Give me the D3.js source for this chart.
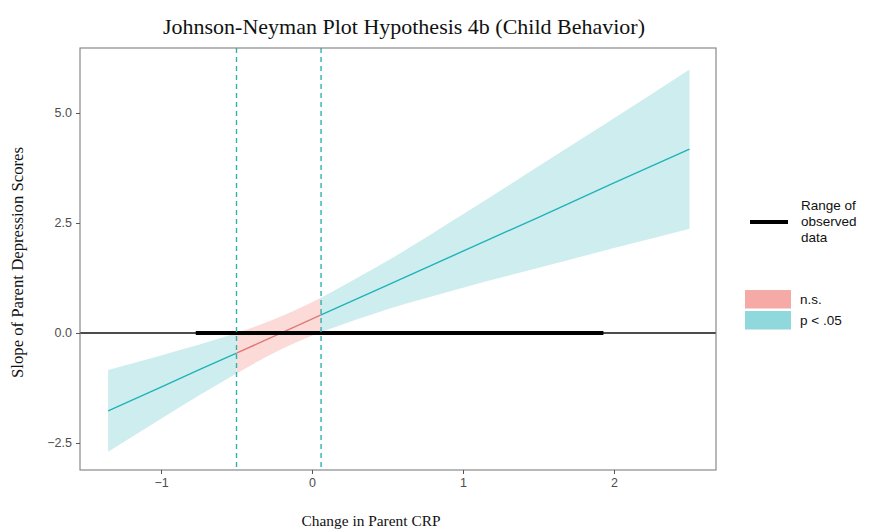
<!DOCTYPE html>
<html>
<head>
<meta charset="utf-8">
<script src="https://cdn.jsdelivr.net/npm/d3@7"></script>
<style>
  html, body { margin: 0; padding: 0; background: #fff; }
  svg { display: block; }
</style>
</head>
<body>
<svg id="chart" width="872" height="531"></svg>
<script>
// Moderator values (Change in Parent CRP) and the conditional slope with its 95% band
const moderator = [-1.35, -1.0, -0.75, -0.5, -0.25, 0.06, 0.5, 1.0, 1.5, 2.0, 2.5];
const slope     = [-1.77, -1.23, -0.84, -0.46, -0.07, 0.41, 1.09, 1.86, 2.63, 3.41, 4.18];
const lowerCI   = [-2.70, -1.95, -1.42, -0.92, -0.45, 0.02, 0.54, 1.03, 1.48, 1.93, 2.37];
const upperCI   = [-0.84, -0.51, -0.27, 0.00, 0.31, 0.80, 1.64, 2.70, 3.79, 4.88, 5.99];

// Johnson-Neyman boundaries and observed range of the moderator
const jnBounds = [-0.5, 0.06];
const observedRange = [-0.77, 1.93];

// Significance regions along the moderator
const regions = [
  { from: -1.35, to: -0.5, sig: true },
  { from: -0.5, to: 0.06, sig: false },
  { from: 0.06, to: 2.5, sig: true }
];

const xTicks = [-1, 0, 1, 2];
const yTicks = [-2.5, 0, 2.5, 5.0];

const titleText = "Johnson-Neyman Plot Hypothesis 4b (Child Behavior)";
const xTitle = "Change in Parent CRP";
const yTitle = "Slope of Parent Depression Scores";
const legendRangeLines = ["Range of", "observed", "data"];
const legendSig = [{ label: "n.s.", sig: false }, { label: "p < .05", sig: true }];

const colors = {
  sigLine: "#1fb3b9", sigBand: "#cdedef", sigKey: "#8fd8dc",
  nsLine: "#dd7b74", nsBand: "#fbdad8", nsKey: "#f6aaa7"
};

const rows = moderator.map((m, i) => ({ x: m, est: slope[i], lo: lowerCI[i], hi: upperCI[i] }));

const svg = d3.select("#chart");
const panel = { left: 80, right: 716, top: 48, bottom: 470 };

const x = d3.scaleLinear()
  .domain([-1.5365, 2.6755])
  .range([panel.left, panel.right]);
const y = d3.scaleLinear()
  .domain([-3.114, 6.477])
  .range([panel.bottom, panel.top]);

const g = svg.append("g");

const inRegion = r => rows.filter(d => d.x >= r.from - 1e-9 && d.x <= r.to + 1e-9);

// Confidence bands and slope line per significance region
const area = d3.area()
  .x(d => x(d.x)).y0(d => y(d.lo)).y1(d => y(d.hi))
  .curve(d3.curveMonotoneX);
const line = d3.line().x(d => x(d.x)).y(d => y(d.est));

regions.forEach(r => {
  g.append("path").datum(inRegion(r))
    .attr("d", area)
    .attr("fill", r.sig ? colors.sigBand : colors.nsBand);
});

// Zero reference line
g.append("line")
  .attr("x1", panel.left).attr("x2", panel.right)
  .attr("y1", y(0)).attr("y2", y(0))
  .attr("stroke", "#111").attr("stroke-width", 1.5);

regions.forEach(r => {
  g.append("path").datum(inRegion(r))
    .attr("d", line)
    .attr("fill", "none")
    .attr("stroke", r.sig ? colors.sigLine : colors.nsLine)
    .attr("stroke-width", 1.4);
});

// Observed data range
g.append("line")
  .attr("x1", x(observedRange[0])).attr("x2", x(observedRange[1]))
  .attr("y1", y(0)).attr("y2", y(0))
  .attr("stroke", "#000").attr("stroke-width", 4);

// Johnson-Neyman boundaries
g.selectAll(".jn").data(jnBounds).enter().append("line")
  .attr("x1", d => x(d)).attr("x2", d => x(d))
  .attr("y1", panel.top).attr("y2", panel.bottom)
  .attr("stroke", "#2fb0b3").attr("stroke-width", 1.4)
  .attr("stroke-dasharray", "5,4");

// Panel border
g.append("rect")
  .attr("x", panel.left).attr("y", panel.top)
  .attr("width", panel.right - panel.left).attr("height", panel.bottom - panel.top)
  .attr("fill", "none").attr("stroke", "#7f7f7f").attr("stroke-width", 1.1);

// Axes
const fmtY = d3.format(".1f");
const xAxis = d3.axisBottom(x).tickValues(xTicks).tickFormat(d3.format("d")).tickSize(4).tickPadding(4);
const yAxis = d3.axisLeft(y).tickValues(yTicks).tickFormat(fmtY).tickSize(4).tickPadding(4);

const gx = svg.append("g").attr("transform", `translate(0,${panel.bottom})`).call(xAxis);
const gy = svg.append("g").attr("transform", `translate(${panel.left},0)`).call(yAxis);
[gx, gy].forEach(a => {
  a.select(".domain").remove();
  a.selectAll(".tick line").attr("stroke", "#555");
  a.selectAll(".tick text")
    .attr("fill", "#4d4d4d")
    .style("font-family", "'Liberation Sans', Arial, sans-serif")
    .style("font-size", "12.5px");
});

// Titles
const serif = "'Liberation Serif', 'Times New Roman', serif";
svg.append("text")
  .attr("x", 404).attr("y", 34)
  .attr("text-anchor", "middle")
  .attr("textLength", 482).attr("lengthAdjust", "spacingAndGlyphs")
  .style("font-family", serif)
  .style("font-size", "21px")
  .attr("fill", "#111")
  .text(titleText);

svg.append("text")
  .attr("x", 371).attr("y", 526)
  .attr("text-anchor", "middle")
  .attr("textLength", 139).attr("lengthAdjust", "spacingAndGlyphs")
  .style("font-family", serif)
  .style("font-size", "15.5px")
  .attr("fill", "#111")
  .text(xTitle);

svg.append("text")
  .attr("transform", `translate(23,${(147 + 378) / 2}) rotate(-90)`)
  .attr("text-anchor", "middle")
  .attr("textLength", 231).attr("lengthAdjust", "spacingAndGlyphs")
  .style("font-family", serif)
  .style("font-size", "16px")
  .attr("fill", "#111")
  .text(yTitle);

// Legend: observed range
const legend = svg.append("g")
  .style("font-family", "'Liberation Sans', Arial, sans-serif")
  .style("font-size", "13.5px")
  .attr("fill", "#111");

legend.append("line")
  .attr("x1", 750).attr("x2", 788).attr("y1", 222).attr("y2", 222)
  .attr("stroke", "#000").attr("stroke-width", 4);
legend.selectAll(".rl").data(legendRangeLines).enter().append("text")
  .attr("x", 801).attr("y", (d, i) => 210 + i * 16)
  .text(d => d);

// Legend: significance keys
legendSig.forEach((k, i) => {
  legend.append("rect")
    .attr("x", 745).attr("y", 290 + i * 21)
    .attr("width", 46).attr("height", 18.5)
    .attr("fill", k.sig ? colors.sigKey : colors.nsKey);
  legend.append("text")
    .attr("x", 800).attr("y", 304 + i * 21)
    .text(k.label);
});
</script>
</body>
</html>
